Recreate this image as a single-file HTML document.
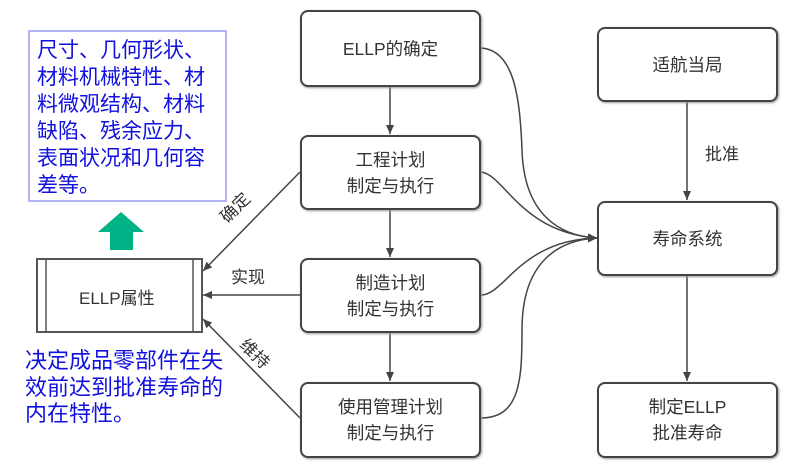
<!DOCTYPE html>
<html><head><meta charset="utf-8"><style>
body{margin:0;width:801px;height:469px;background:#fff;overflow:hidden;position:relative;font-family:"Liberation Sans","Noto Sans CJK SC",sans-serif}
.b{position:absolute;box-sizing:border-box;border:2px solid #444;border-radius:8px;display:flex;align-items:center;justify-content:center;text-align:center;color:#333;font-size:17.5px;line-height:26px;box-shadow:1px 1px 2px #999;background:#fff}
.blue{position:absolute;color:#1010e0;font-family:"Liberation Sans","Noto Sans CJK SC",sans-serif}
.lab{position:absolute;color:#333;font-size:17px}
</style></head><body>
<svg width="801" height="469" style="position:absolute;left:0;top:0">
<defs><marker id="a" markerWidth="10" markerHeight="10" refX="9" refY="5" orient="auto" markerUnits="userSpaceOnUse"><path d="M0,1 L9,5 L0,9 z" fill="#444"/></marker></defs>
<g stroke="#444" stroke-width="1.5" fill="none" marker-end="url(#a)">
<line x1="390" y1="87" x2="390" y2="134"/>
<line x1="390" y1="210" x2="390" y2="257"/>
<line x1="390" y1="333" x2="390" y2="381"/>
<line x1="687" y1="102" x2="687" y2="200"/>
<line x1="687" y1="276" x2="687" y2="381"/>
<path d="M481,48 C515,50 520,100 522,150 C524,215 560,236 597,238"/>
<path d="M481,172 C505,175 520,232 597,238"/>
<path d="M481,295 C505,295 520,240 597,238"/>
<path d="M481,418 C520,418 522,380 522,330 C522,260 560,240 597,238"/>
<line x1="300" y1="172" x2="203" y2="271"/>
<line x1="300" y1="295" x2="203" y2="295"/>
<line x1="300" y1="418" x2="203" y2="319"/>
</g>
<rect x="29" y="31" width="197" height="170" fill="none" stroke="#9a9af0" stroke-width="1.5"/>
<path d="M121,212 L144,232 L133,232 L133,250 L110,250 L110,232 L98,232 z" fill="#00b386"/>
<rect x="37" y="259" width="165" height="73" fill="#fff" stroke="#555" stroke-width="2"/>
<line x1="46" y1="259" x2="46" y2="332" stroke="#555" stroke-width="1.5"/>
<line x1="193" y1="259" x2="193" y2="332" stroke="#555" stroke-width="1.5"/>
</svg>
<div class="b" style="left:300px;top:10px;width:181px;height:77px">ELLP的确定</div>
<div class="b" style="left:300px;top:135px;width:181px;height:75px">工程计划<br>制定与执行</div>
<div class="b" style="left:300px;top:258px;width:181px;height:75px">制造计划<br>制定与执行</div>
<div class="b" style="left:300px;top:382px;width:181px;height:76px">使用管理计划<br>制定与执行</div>
<div class="b" style="left:597px;top:27px;width:181px;height:75px">适航当局</div>
<div class="b" style="left:597px;top:201px;width:181px;height:75px">寿命系统</div>
<div class="b" style="left:597px;top:382px;width:181px;height:76px">制定ELLP<br>批准寿命</div>
<div class="lab" style="left:79px;top:284px;color:#333">ELLP属性</div>
<div class="lab" style="left:705px;top:140px">批准</div>
<div class="lab" style="left:231px;top:263px">实现</div>
<div class="lab" style="left:217px;top:194px;transform:rotate(-45deg)">确定</div>
<div class="lab" style="left:239px;top:340px;transform:rotate(45deg)">维持</div>
<div class="blue" style="left:37px;top:37px;font-size:21px;line-height:27px;width:190px">尺寸、几何形状、<br>材料机械特性、材<br>料微观结构、材料<br>缺陷、残余应力、<br>表面状况和几何容<br>差等。</div>
<div class="blue" style="left:25px;top:348px;font-size:22px;line-height:26.5px;width:210px">决定成品零部件在失<br>效前达到批准寿命的<br>内在特性。</div>
</body></html>
